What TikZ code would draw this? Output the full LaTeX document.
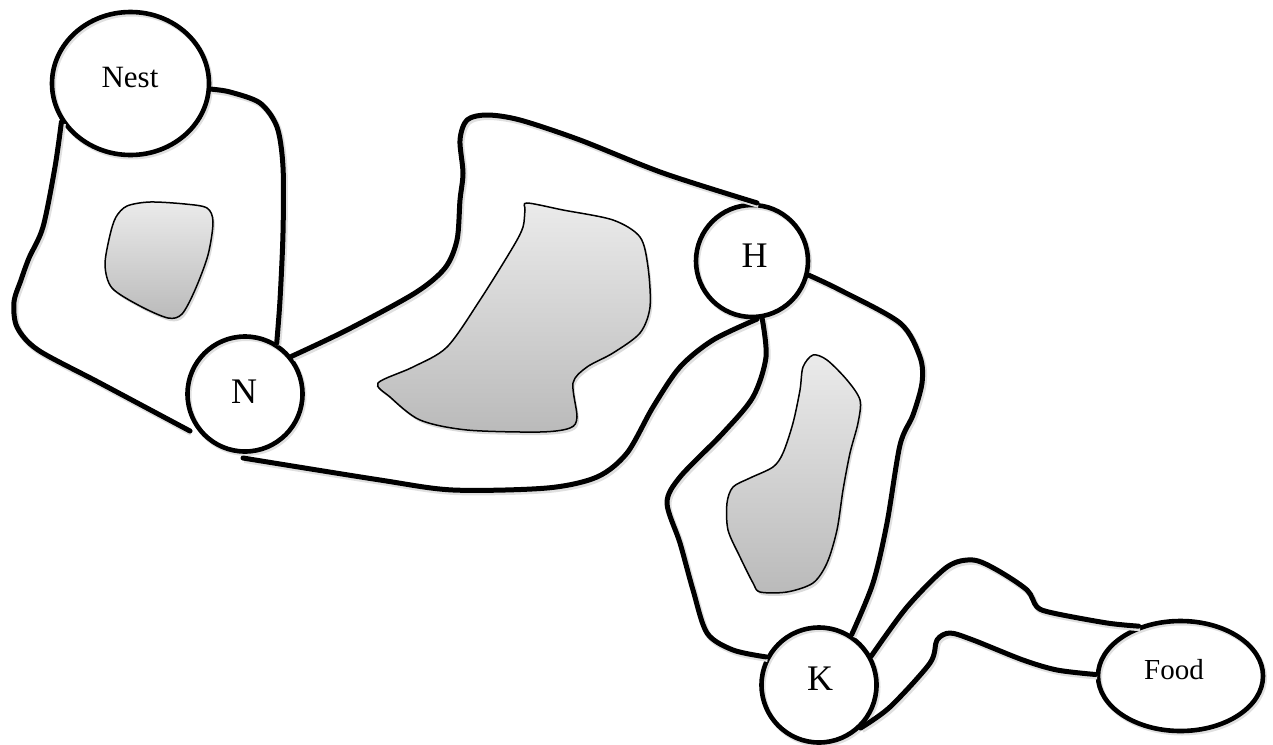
\documentclass[tikz,border=0pt]{standalone}
\usepackage{fontspec}
\setmainfont{Liberation Serif}
\usetikzlibrary{shapes.geometric}
\begin{document}
\begin{tikzpicture}[x=1pt,y=-1pt,
  softshade/.style={preaction={draw=black!12, line width=#1, transform canvas={shift={(1.5pt,-2pt)}}}},
  spot/.style={circle, draw, line width=4.6pt, inner sep=0pt, minimum size=#1, softshade=5pt},
  oval/.style={ellipse, draw, line width=4.6pt, inner sep=0pt, softshade=5pt},
  wall/.style={line width=5pt, line cap=round, line join=round, softshade=6pt},
  pond/.style={draw, line width=1.5pt, top color=black!8, bottom color=black!27,
    preaction={fill=black!14, transform canvas={shift={(2pt,-3pt)}}}},
  bigtag/.style={font=\fontsize{36}{40}\selectfont, inner sep=0pt},
  smalltag/.style={inner sep=0pt}]
\useasboundingbox (0,0) rectangle (1273,744);

% obstacles
\path[pond] plot[smooth cycle] coordinates {(127,206) (150,202) (185,204) (207,208) (213,222) (208,255) (195,290) (182,314) (168,318) (140,306) (112,288) (105,265) (110,235) (116,217)};
\path[pond] plot[smooth cycle] coordinates {(527,203) (563,210) (613,220) (640,237) (648,267) (650,307) (640,333) (613,353) (587,367) (573,383) (577,417) (570,428) (540,432) (467,430) (420,420) (390,397) (378,383) (413,367) (447,347) (480,300) (513,247) (523,227) (525,210)};
\path[pond] plot[smooth cycle] coordinates {(813,355) (827,360) (847,380) (860,400) (858,423) (850,453) (843,490) (837,530) (827,563) (813,583) (787,592) (760,592) (753,583) (740,557) (728,530) (727,503) (733,487) (750,478) (773,467) (783,453) (793,423) (800,390) (803,367)};

% places
\node[oval, minimum width=157, minimum height=143] (nest) at (130.5,83.5) {};
\node[spot=115] (N) at (245,394) {};
\node[spot=112] (H) at (752,261) {};
\node[spot=115] (K) at (819,685) {};
\node[oval, minimum width=165, minimum height=110] (food) at (1180.5,676) {};

\node[smalltag, font=\fontsize{31}{36}\selectfont] (nesttext) at (130,77.5) {Nest};
\node[smalltag, font=\fontsize{29}{34}\selectfont] (foodtext) at (1174,670) {Food};
\node[bigtag] (Ntext) at (244,392) {N};
\node[bigtag] (Htext) at (754.5,256) {H};
\node[bigtag] (Ktext) at (820,679) {K};

% free ends of the walls near N
\coordinate (nwest) at (190,431);
\coordinate (nsouth) at (243,458);

% walls of the corridors
\draw[wall] plot[smooth] coordinates {(nest.209) (55,167) (43,227) (29,258) (21,280) (14,302) (17,327) (38,350) (100,383) (nwest)};
\draw[wall] plot[smooth] coordinates {(nest.-4) (230,92) (260,103) (277,127) (283,167) (283,233) (280,300) (N.58)};
\draw[wall] plot[smooth] coordinates {(N.39) (347,330) (415,293) (445,268) (457,240) (460,200) (463,173) (460,140) (467,120) (487,115) (520,120) (580,140) (663,173) (H.85)};
\draw[wall] plot[smooth] coordinates {(nsouth) (380,480) (453,490) (547,488) (597,477) (627,453) (653,407) (680,367) (713,340) (H.-85)};
\draw[wall] plot[smooth] coordinates {(H.-80) (766,357) (753,397) (723,433) (680,477) (667,503) (680,543) (693,590) (707,633) (733,650) (K.152)};
\draw[wall] plot[smooth] coordinates {(H.-14) (840,290) (900,323) (920,357) (922,383) (913,415) (900,445) (887,523) (873,583) (K.57)};
\draw[wall] plot[smooth] coordinates {(K.29) (907,607) (947,567) (973,560) (997,570) (1027,590) (1037,607) (1053,613) (1107,623) (food.130)};
\draw[wall] plot[smooth] coordinates {(K.-46) (890,707) (930,663) (937,640) (950,633) (973,640) (1023,660) (1057,670) (food.179)};
\end{tikzpicture}
\end{document}
